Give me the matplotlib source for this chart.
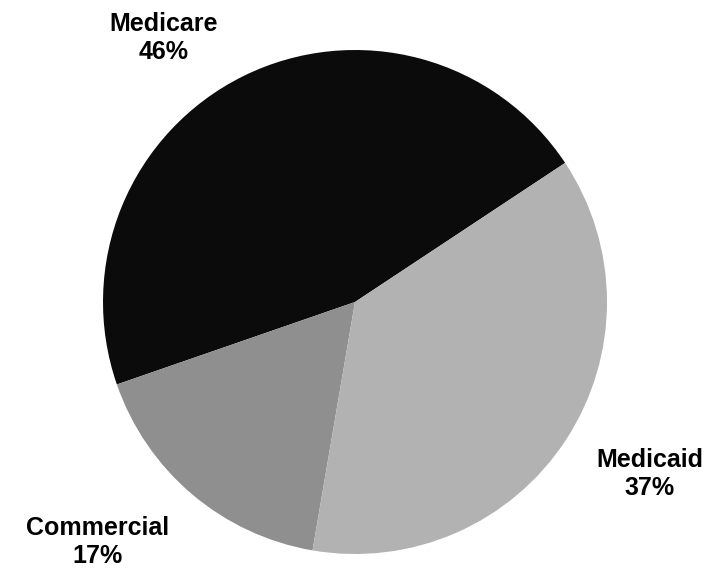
"""Payer mix pie chart: Medicare / Commercial / Medicaid."""
import matplotlib
matplotlib.use("Agg")
import matplotlib.pyplot as plt

W, H = 727, 574

payers = ["Medicare", "Commercial", "Medicaid"]
shares = [46, 17, 37]
colors = ["#0b0b0b", "#8f8f8f", "#b2b2b2"]
# label block centres in pixel space (x, y from top)
label_px = [(164, 38), (98, 542), (650, 474)]

plt.rcParams["font.family"] = ["Liberation Sans", "DejaVu Sans"]

fig = plt.figure(figsize=(W / 100, H / 100), dpi=100)
cx, cy, r = 355, 302, 252
ax = fig.add_axes([(cx - r) / W, (H - cy - r) / H, 2 * r / W, 2 * r / H])
ax.pie(shares, colors=colors, startangle=33.5, counterclock=True,
       wedgeprops=dict(linewidth=0))
ax.set_xlim(-1, 1)
ax.set_ylim(-1, 1)
ax.set_aspect("equal")
ax.axis("off")

for name, val, (px, py) in zip(payers, shares, label_px):
    fig.text(px / W, 1 - py / H, f"{name}\n{val}%", ha="center", va="center",
             fontsize=18, fontweight="bold", linespacing=1.25)

fig.savefig("out.png", dpi=100)
